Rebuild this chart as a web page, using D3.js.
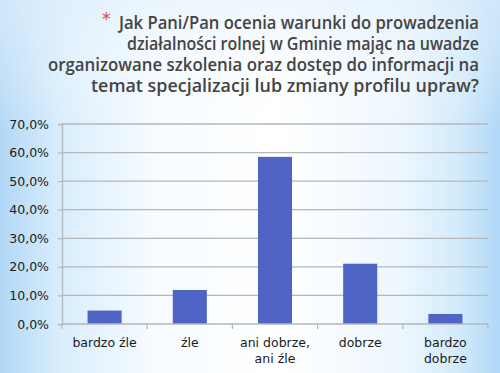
<!DOCTYPE html>
<html>
<head>
<meta charset="utf-8">
<script src="https://cdn.jsdelivr.net/npm/d3@7/dist/d3.min.js"></script>
<style>
  html, body { margin: 0; padding: 0; }
  body { width: 500px; height: 373px; overflow: hidden; }
</style>
</head>
<body>
<div id="chart"></div>
<script>
// data
let titleLines = [
    "Jak Pani/Pan ocenia warunki do prowadzenia",
    "działalności rolnej w Gminie mając na uwadze",
    "organizowane szkolenia oraz dostęp do informacji na",
    "temat specjalizacji lub zmiany profilu upraw?"
];
let categories = [["bardzo źle"], ["źle"], ["ani dobrze,", "ani źle"], ["dobrze"], ["bardzo", "dobrze"]];
let values = [4.7, 11.9, 58.5, 21.1, 3.5];
let yTicks = [0, 10, 20, 30, 40, 50, 60, 70];

let W = 500, H = 373;
let margin = {top: 124, right: 12, bottom: 49, left: 62},
    width = W - margin.left - margin.right,
    height = H - margin.top - margin.bottom;

let svg = d3.select("#chart")
    .append("svg")
    .attr("width", W)
    .attr("height", H);

// slide background
let defs = svg.append("defs");
let bg = defs.append("linearGradient").attr("id", "bg")
    .attr("x1", "0").attr("x2", "1").attr("y1", "0").attr("y2", "0");
[[0, "#b2d8f6"], [0.12, "#d9edfc"], [0.3, "#f6fbff"], [0.55, "#ffffff"], [0.8, "#eef7fe"], [0.92, "#d2eafb"], [1, "#b0d7f6"]]
    .forEach(function(s) { bg.append("stop").attr("offset", s[0]).attr("stop-color", s[1]); });
let bgTop = defs.append("linearGradient").attr("id", "bgTop")
    .attr("x1", "0").attr("x2", "0").attr("y1", "0").attr("y2", "1");
[[0, "#e3f1fc", 0.6], [0.35, "#ffffff", 0], [1, "#ffffff", 0]]
    .forEach(function(s) { bgTop.append("stop").attr("offset", s[0]).attr("stop-color", s[1]).attr("stop-opacity", s[2]); });

svg.append("rect").attr("width", W).attr("height", H).attr("fill", "url(#bg)");
svg.append("rect").attr("width", W).attr("height", H).attr("fill", "url(#bgTop)");

// title, right aligned like the slide
let titleLayer = svg.append("g").attr("class", "title-layer");
let titleStarts = [119, 127, 48, 91];
titleLayer.selectAll("text.title")
    .data(titleLines)
    .enter().append("text")
    .attr("class", "title")
    .attr("x", function(d, i) { return titleStarts[i]; })
    .attr("y", function(d, i) { return 29 + i * 21; })
    .attr("textLength", function(d, i) { return 479 - titleStarts[i]; })
    .attr("lengthAdjust", "spacingAndGlyphs")
    .style("font-family", "'Open Sans', sans-serif")
    .style("font-size", "18.5px")
    .style("font-weight", "600")
    .style("fill", "#444444")
    .text(function(d) { return d; });

titleLayer.append("text")
    .attr("x", 102)
    .attr("y", 25)
    .style("font-family", "'DejaVu Sans', sans-serif")
    .style("font-size", "17px")
    .style("fill", "#d8473b")
    .text("*");

let canvas = svg.append("g")
    .attr("transform", "translate(" + margin.left + "," + margin.top + ")");

let x = d3.scaleBand()
    .domain(d3.range(categories.length))
    .range([0, width])
    .paddingInner(0.6)
    .paddingOuter(0.3);

let y = d3.scaleLinear()
    .domain([0, 70])
    .range([height, 0]);

// gridlines
canvas.append("g").attr("class", "grid")
    .selectAll("line")
    .data(yTicks.filter(function(d) { return d > 0; }))
    .enter().append("line")
    .attr("x1", 0)
    .attr("x2", width)
    .attr("y1", function(d) { return y(d); })
    .attr("y2", function(d) { return y(d); })
    .style("stroke", "#b3b7ba")
    .style("stroke-width", 1.3);

// bars
canvas.append("g").attr("class", "bars")
    .selectAll("rect")
    .data(values)
    .enter().append("rect")
    .attr("x", function(d, i) { return x(i); })
    .attr("width", x.bandwidth())
    .attr("y", function(d) { return y(d); })
    .attr("height", function(d) { return height - y(d); })
    .style("fill", "#4f65c5");

// y axis
let yAxis = d3.axisLeft(y)
    .tickValues(yTicks)
    .tickSize(4)
    .tickPadding(9)
    .tickFormat(function(d) { return d.toFixed(1).replace(".", ",") + "%"; });

let gYAxis = canvas.append("g")
    .attr("class", "y axis")
    .call(yAxis);

// x axis, ticks between categories
let xEdges = d3.scaleLinear().domain([0, categories.length]).range([0, width]);
let gXAxis = canvas.append("g")
    .attr("class", "x axis")
    .attr("transform", "translate(0," + height + ")");
gXAxis.append("line")
    .attr("x1", 0).attr("x2", width)
    .style("stroke", "#b3b7ba").style("stroke-width", 1.3);
gXAxis.selectAll("line.tick")
    .data(d3.range(categories.length + 1))
    .enter().append("line")
    .attr("class", "tick")
    .attr("x1", function(d) { return xEdges(d); })
    .attr("x2", function(d) { return xEdges(d); })
    .attr("y1", 0).attr("y2", 5)
    .style("stroke", "#b3b7ba").style("stroke-width", 1.2);

let labels = gXAxis.selectAll("text.label")
    .data(categories)
    .enter().append("text")
    .attr("class", "label")
    .attr("x", function(d, i) { return x(i) + x.bandwidth() / 2; })
    .attr("y", 23)
    .style("text-anchor", "middle")
    .style("font-family", "'DejaVu Sans', sans-serif")
    .style("font-size", "12.5px")
    .style("fill", "#1a1a1a");
labels.selectAll("tspan")
    .data(function(d) { return d; })
    .enter().append("tspan")
    .attr("x", function() { return d3.select(this.parentNode).attr("x"); })
    .attr("dy", function(d, i) { return i === 0 ? 0 : 16; })
    .text(function(d) { return d; });

gYAxis.call(function(g) {
    g.select(".domain").style("stroke", "#b3b7ba").style("stroke-width", 1.3);
    g.selectAll(".tick line").style("stroke", "#b3b7ba").style("stroke-width", 1.2);
    g.selectAll("text")
        .style("font-family", "'DejaVu Sans', sans-serif")
        .style("font-size", "12.5px")
        .style("fill", "#1a1a1a");
});
</script>
</body>
</html>
